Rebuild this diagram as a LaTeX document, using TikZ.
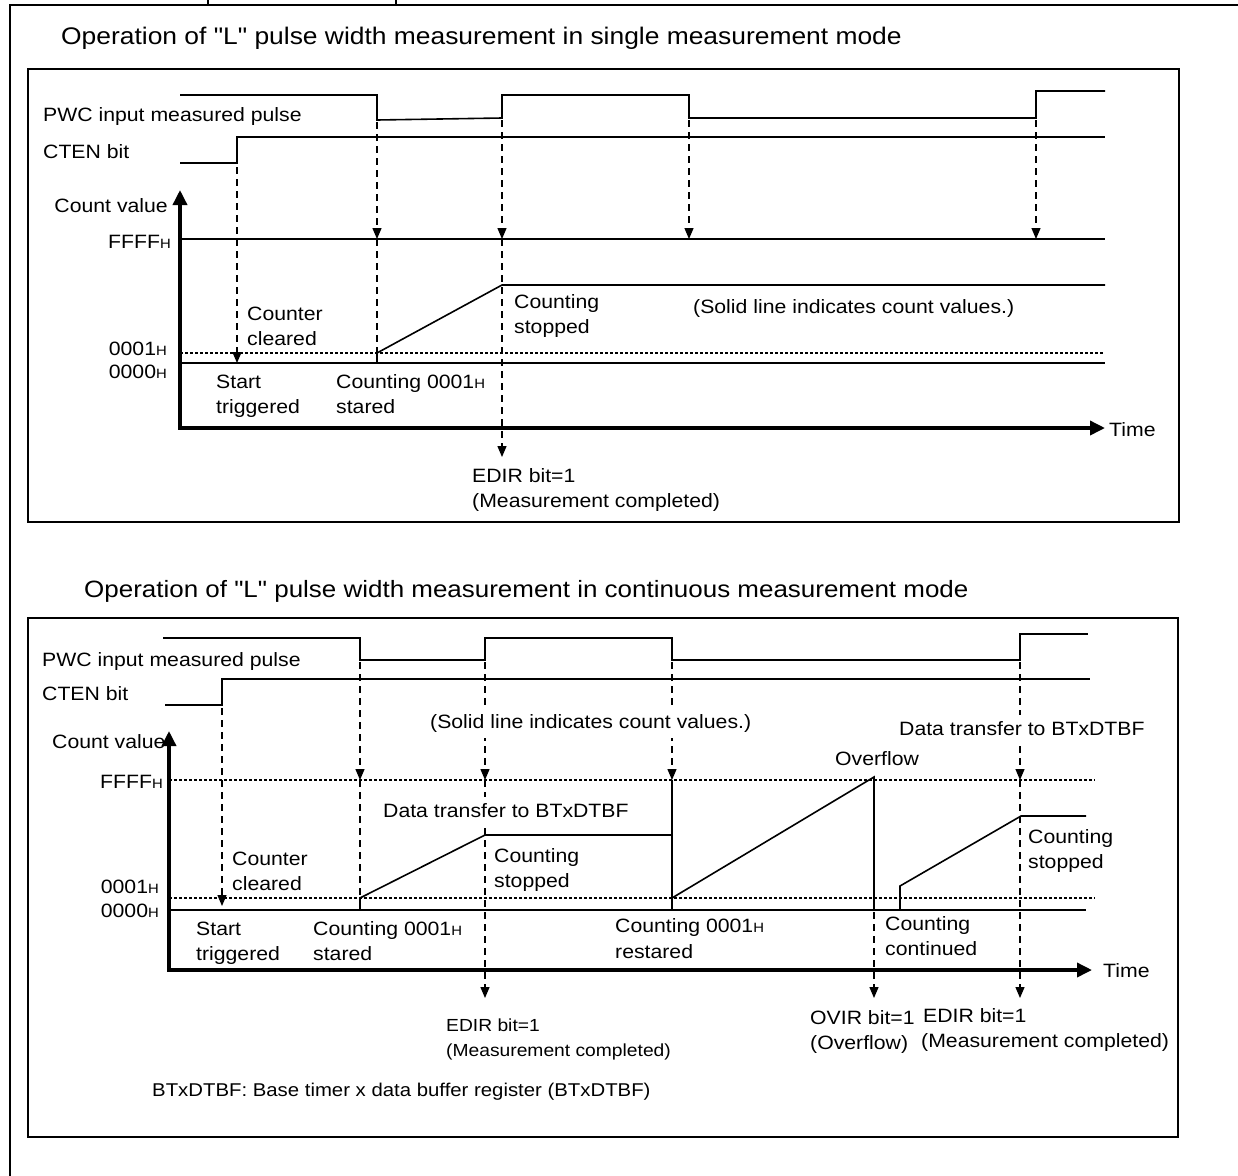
\documentclass[tikz,border=0pt]{standalone}
\usepackage{fontspec}
\setmainfont{Liberation Sans}[FakeStretch=1.1,Ligatures=TeXOff]
\usetikzlibrary{arrows.meta}
\newcommand{\Hsub}{{\fontsize{13.5bp}{13.5bp}\selectfont H}}
\begin{document}
\begin{tikzpicture}[x=1bp,y=-1bp,
  frame/.style={line width=2bp},
  panel/.style={line width=1.5bp},
  wave/.style={line width=1.6bp},
  axis/.style={line width=3.5bp,{Triangle[width=14bp,length=15bp]}-{Triangle[width=14bp,length=15bp]}},
  dsh/.style={line width=1.3bp,dash pattern=on 7bp off 5bp},
  darr/.style={dsh,-{Triangle[width=9bp,length=11bp]}},
  dots/.style={line width=1.3bp,dash pattern=on 2.5bp off 2.5bp},
  lbl/.style={anchor=base west,inner sep=0pt,font=\fontsize{19.3bp}{22bp}\selectfont},
  lblr/.style={lbl,anchor=base east},
  slbl/.style={lbl,font=\fontsize{17.5bp}{20bp}\selectfont},
  wlbl/.style={lbl,fill=white,inner ysep=6bp,inner xsep=0pt},
  ttl/.style={anchor=base west,inner sep=0pt,font=\fontsize{24bp}{28bp}\selectfont}]
\useasboundingbox (0,0) rectangle (1238,1176);
% outer frame
\coordinate (ofb) at (10,1176); \coordinate (oft) at (10,5); \coordinate (ofr) at (1238,5);
\draw[frame] (ofb) -- (oft) -- (ofr);
\coordinate (tk1a) at (208,0); \coordinate (tk1b) at (208,5);
\coordinate (tk2a) at (396,0); \coordinate (tk2b) at (396,5);
\draw[line width=1.2bp] (tk1a) -- (tk1b) (tk2a) -- (tk2b);

%================ TOP PANEL =================
\node[ttl] (t1) at (61,44) {Operation of "L" pulse width measurement in single measurement mode};
\draw[panel] (28,69) rectangle (1179,522);
% waveforms
\draw[wave] (180,95) -- (377,95) -- (377,120) -- (502,118) -- (502,95) -- (689,95) -- (689,118) -- (1036,118) -- (1036,91) -- (1105,91);
\draw[wave] (180,163) -- (237,163) -- (237,137) -- (1105,137);
\node[lbl] (pwc1) at (43,121) {PWC input measured pulse};
\node[lbl] (cten1) at (43,158) {CTEN bit};
% axes
\coordinate (ya1) at (180,190); \coordinate (o1) at (180,428); \coordinate (xa1) at (1105,428);
\draw[axis] (ya1) -- (o1) -- (xa1);
\node[lblr] (cv1) at (168,212) {Count value};
\node[lbl] (time1) at (1109,436) {Time};
% levels
\draw[wave] (180,239) -- (1105,239);
\draw[dots] (180,353) -- (1105,353);
\draw[wave] (180,363) -- (1105,363);
\node[lblr] (ff1) at (171,248) {FFFF\Hsub};
\node[lblr] (l1a) at (167,355) {0001\Hsub};
\node[lblr] (l0a) at (167,378) {0000\Hsub};
% count value
\draw[wave] (377,363) -- (377,353) -- (502,285) -- (1105,285);
% dashed arrows
\coordinate (a1s) at (237,167); \coordinate (a1e) at (237,363);
\draw[darr] (a1s) -- (a1e);
\coordinate (a2s) at (377,122); \coordinate (a2m) at (377,239); \coordinate (a2e) at (377,353);
\draw[darr] (a2s) -- (a2m); \draw[dsh] (a2m) -- (a2e);
\coordinate (a3s) at (502,120); \coordinate (a3m) at (502,239); \coordinate (a3e) at (502,457);
\draw[darr] (a3s) -- (a3m); \draw[darr] (a3m) -- (a3e);
\coordinate (a4s) at (689,120); \coordinate (a4e) at (689,239);
\draw[darr] (a4s) -- (a4e);
\coordinate (a5s) at (1036,120); \coordinate (a5e) at (1036,239);
\draw[darr] (a5s) -- (a5e);
% labels
\node[lbl] (cc1a) at (247,320) {Counter};
\node[lbl] (cc1b) at (247,345) {cleared};
\node[lbl] (st1a) at (216,388) {Start};
\node[lbl] (st1b) at (216,413) {triggered};
\node[lbl] (cs1a) at (336,388) {Counting 0001\Hsub};
\node[lbl] (cs1b) at (336,413) {stared};
\node[lbl] (sp1a) at (514,308) {Counting};
\node[lbl] (sp1b) at (514,333) {stopped};
\node[lbl] (sl1) at (693,313) {(Solid line indicates count values.)};
\node[lbl] (ed1a) at (472,482) {EDIR bit=1};
\node[lbl] (ed1b) at (472,507) {(Measurement completed)};

%================ BOTTOM PANEL =================
\node[ttl,font=\fontsize{23.6bp}{28bp}\selectfont] (t2) at (84,597) {Operation of "L" pulse width measurement in continuous measurement mode};
\draw[panel] (28,618) rectangle (1178,1137);
\draw[wave] (163,638) -- (360,638) -- (360,660) -- (485,660) -- (485,638) -- (672,638) -- (672,660) -- (1020,660) -- (1020,634) -- (1088,634);
\draw[wave] (165,705) -- (222,705) -- (222,679) -- (1090,679);
\node[lbl] (pwc2) at (42,666) {PWC input measured pulse};
\node[lbl] (cten2) at (42,700) {CTEN bit};
% axes
\coordinate (ya2) at (169,731); \coordinate (o2) at (169,970); \coordinate (xa2) at (1092,970);
\draw[axis] (ya2) -- (o2) -- (xa2);
\node[lbl] (cv2) at (52,748) {Count value};
\node[lbl] (time2) at (1103,977) {Time};
% levels
\draw[dots] (169,780) -- (1095,780);
\draw[dots] (169,898) -- (1095,898);
\draw[wave] (169,910) -- (1086,910);
\node[lblr] (ff2) at (163,788) {FFFF\Hsub};
\node[lblr] (l1b) at (159,893) {0001\Hsub};
\node[lblr] (l0b) at (159,917) {0000\Hsub};
% count value
\draw[wave] (360,910) -- (360,898) -- (485,835) -- (672,835);
\draw[wave] (672,780) -- (672,910);
\draw[wave] (672,898) -- (874,777) -- (874,910);
\draw[wave] (900,910) -- (900,886) -- (1021,816) -- (1086,816);
% dashed arrows
\coordinate (b1s) at (222,708); \coordinate (b1e) at (222,906);
\draw[darr] (b1s) -- (b1e);
\coordinate (b2s) at (360,662); \coordinate (b2m) at (360,780); \coordinate (b2e) at (360,898);
\draw[darr] (b2s) -- (b2m); \draw[dsh] (b2m) -- (b2e);
\coordinate (b3s) at (485,662); \coordinate (b3m) at (485,780); \coordinate (b3e) at (485,998);
\draw[darr] (b3s) -- (b3m); \draw[darr] (b3m) -- (b3e);
\coordinate (b4s) at (672,662); \coordinate (b4e) at (672,780);
\draw[darr] (b4s) -- (b4e);
\coordinate (b5s) at (874,912); \coordinate (b5e) at (874,998);
\draw[darr] (b5s) -- (b5e);
\coordinate (b6s) at (1020,662); \coordinate (b6m) at (1020,780); \coordinate (b6e) at (1020,998);
\draw[darr] (b6s) -- (b6m); \draw[darr] (b6m) -- (b6e);
% labels
\node[wlbl] (sl2) at (430,728) {(Solid line indicates count values.)};
\node[wlbl] (dt2a) at (899,735) {Data transfer to BTxDTBF};
\node[lbl] (ov2) at (835,765) {Overflow};
\node[wlbl] (dt2b) at (383,817) {Data transfer to BTxDTBF};
\node[lbl] (cc2a) at (232,865) {Counter};
\node[lbl] (cc2b) at (232,890) {cleared};
\node[lbl] (sp2a) at (494,862) {Counting};
\node[lbl] (sp2b) at (494,887) {stopped};
\node[lbl] (sp3a) at (1028,843) {Counting};
\node[lbl] (sp3b) at (1028,868) {stopped};
\node[lbl] (st2a) at (196,935) {Start};
\node[lbl] (st2b) at (196,960) {triggered};
\node[lbl] (cs2a) at (313,935) {Counting 0001\Hsub};
\node[lbl] (cs2b) at (313,960) {stared};
\node[lbl] (rs2a) at (615,932) {Counting 0001\Hsub};
\node[lbl] (rs2b) at (615,958) {restared};
\node[lbl] (cn2a) at (885,930) {Counting};
\node[lbl] (cn2b) at (885,955) {continued};
\node[slbl] (ed2a) at (446,1031) {EDIR bit=1};
\node[slbl] (ed2b) at (446,1056) {(Measurement completed)};
\node[lbl] (ovr2a) at (810,1024) {OVIR bit=1};
\node[lbl] (ovr2b) at (810,1049) {(Overflow)};
\node[lbl] (ed3a) at (923,1022) {EDIR bit=1};
\node[lbl] (ed3b) at (921,1047) {(Measurement completed)};
\node[lbl,font=\fontsize{18.5bp}{21bp}\selectfont] (note) at (152,1096) {BTxDTBF: Base timer x data buffer register (BTxDTBF)};
\end{tikzpicture}
\end{document}
